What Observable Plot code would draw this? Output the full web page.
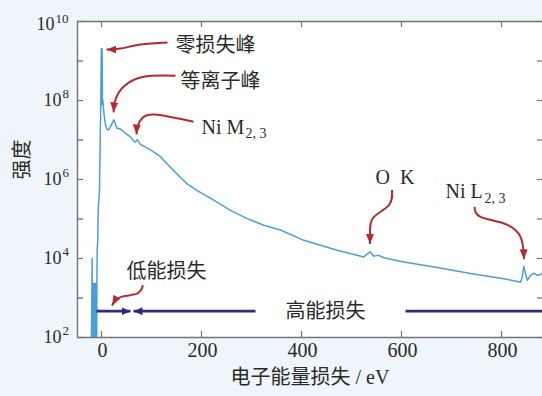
<!DOCTYPE html>
<html><head><meta charset="utf-8">
<script src="https://cdn.jsdelivr.net/npm/d3@7"></script>
<script src="https://cdn.jsdelivr.net/npm/@observablehq/plot@0.6"></script>
<style>
html,body{margin:0;padding:0;background:#eef6fb;}
#chart{width:542px;height:396px;overflow:hidden;}
</style></head><body><div id="chart"></div>
<script>
// Spectrum: energy loss (eV) and log10 of intensity
const energyLoss = [-21,-18.6,-18.2,-17.4,-16.8,-16,-15.4,-14.6,-14,-13.2,-12.6,-11.8,-11.2,-10.4,-9.8,-9.2,-8.6,-7.6,-6.6,-4,-2.6,-1.4,-0.4,0.4,1.2,2.0,2.8,4.6,8,11.4,14.6,18,24.6,31,38,48,58,64.6,68,71.4,78,98,118,124.6,144.6,158,171.4,191.4,224.6,258,291.4,324.6,358,404.6,471.4,524.6,536.6,544.6,554.6,564.6,604.6,671.4,738,804.6,838,841.4,844.6,848,851.4,858,864.6,871.4,882];
const log10Intensity = [1.0,4.0,1.0,3.37,1.0,3.37,1.0,3.37,1.0,3.37,1.0,3.37,1.0,3.37,1.0,3.37,4.25,4.4,5.22,5.73,7.0,7.94,9.31,7.9,9.31,7.95,8.0,7.7,7.38,7.26,7.26,7.34,7.51,7.30,7.28,7.17,7.08,6.97,6.95,7.01,6.89,6.75,6.58,6.48,6.22,6.05,5.89,5.72,5.48,5.22,5.01,4.84,4.72,4.46,4.21,4.04,4.17,4.06,4.08,4.02,3.91,3.77,3.62,3.49,3.40,3.53,3.80,3.62,3.45,3.57,3.63,3.57,3.62];

const xTicks = [0, 200, 400, 600, 800];
const yMajorExp = [2, 4, 6, 8, 10];
const yMinorExp = [3, 5, 7, 9];
const xDomain = [-48, 882];

// Annotation labels (anchor in eV, log10 intensity)
const noteText = ["零损失峰", "等离子峰", "Ni M", "O\u00a0\u00a0K", "Ni L", "低能损失"];
const noteEnergy = [148, 158, 200, 548, 688, 50];
const noteLog10 = [9.39, 8.476, 7.308, 6.038, 5.682, 3.675];
const subText = ["2, 3", "2, 3"];
const subEnergy = [288, 766];
const subLog10 = [7.16, 5.53];

// Red curved arrows (series id, eV, log10 intensity), last point = tip
const arrowId = [1,1,1,1, 2,2,2,2,2, 3,3,3,3,3, 4,4,4,4,4, 5,5,5,5,5, 6,6,6,6];
const arrowEnergy = [132,78,38,10, 148,84,44,28,24, 184,112,82,72,70, 581,575,545,537,537, 746,758,805,838,845, 83,71,38,21];
const arrowLog10 = [9.467,9.416,9.314,9.289, 8.628,8.603,8.349,8.019,7.70, 7.46,7.638,7.562,7.333,7.14, 5.733,5.352,5.055,4.718,4.37, 5.309,5.055,4.887,4.547,3.98, 3.32,3.109,3.023,2.812];

// Navy range bars
const rangeLabel = "高能损失";
const rangeLabelEnergy = 448;
const rangeLog10 = 2.667;
const segFrom = [-10, 308, 608];
const segTo = [58, 64, 882];
const segHead = [true, true, false];

const spectrum = energyLoss.map((e, i) => ({e, v: Math.pow(10, log10Intensity[i])}));
const notes = noteText.map((t, i) => ({t, e: noteEnergy[i], v: Math.pow(10, noteLog10[i])}));
const subs = subText.map((t, i) => ({t, e: subEnergy[i], v: Math.pow(10, subLog10[i])}));
const arrows = arrowId.map((id, i) => ({id, e: arrowEnergy[i], v: Math.pow(10, arrowLog10[i])}));
const segs = segFrom.map((f, i) => ({f, t: segTo[i], head: segHead[i], v: Math.pow(10, rangeLog10)}));

function headMarker(len, wid) {
  return (color, context) => {
    const doc = (context && context.document) || document;
    const ns = "http://www.w3.org/2000/svg";
    const m = doc.createElementNS(ns, "marker");
    m.setAttribute("viewBox", `${-len} ${-wid/2} ${len} ${wid}`);
    m.setAttribute("markerWidth", len);
    m.setAttribute("markerHeight", wid);
    m.setAttribute("markerUnits", "userSpaceOnUse");
    m.setAttribute("refX", 0);
    m.setAttribute("refY", 0);
    m.setAttribute("orient", "auto");
    const p = doc.createElementNS(ns, "path");
    p.setAttribute("d", `M0,0L${-len},${-wid/2}L${-len},${wid/2}Z`);
    p.setAttribute("fill", color);
    p.setAttribute("stroke", "none");
    m.appendChild(p);
    return m;
  };
}

const serif = "'Liberation Serif', 'Times New Roman', 'Noto Sans CJK SC', serif";
const cjk = "'Liberation Serif', 'Noto Sans CJK SC', sans-serif";
const axisColor = "#737373";
const textColor = "#2a2a2a";
const red = "#b8282f";
const navy = "#2e2b7d";
const blue = "#4b9fd6";
const FW = 542 - 77, FH = 396 - 21 - 59;

const plot = Plot.plot({
  width: 542, height: 396,
  marginLeft: 77, marginRight: 0, marginTop: 21, marginBottom: 59,
  x: {domain: xDomain, axis: null},
  y: {type: "log", domain: [1e2, 1e10], axis: null},
  style: {background: "transparent", overflow: "visible"},
  marks: [
    Plot.frame({fill: "white", stroke: null}),
    // axis lines
    Plot.ruleX([xDomain[0]], {stroke: axisColor, strokeWidth: 1.4}),
    Plot.ruleY([1e2], {stroke: axisColor, strokeWidth: 1.4}),
    Plot.ruleY([1e10], {stroke: axisColor, strokeWidth: 1.4}),
    // ticks
    Plot.ruleX(xTicks, {x: d => d, insetTop: FH - 6, stroke: axisColor, strokeWidth: 1.2}),
    Plot.ruleX(xTicks, {x: d => d, insetBottom: FH - 6, stroke: axisColor, strokeWidth: 1.2}),
    Plot.ruleY(yMajorExp, {y: d => Math.pow(10, d), insetRight: FW - 6, stroke: axisColor, strokeWidth: 1.2}),
    Plot.ruleY(yMinorExp, {y: d => Math.pow(10, d), insetRight: FW - 6, stroke: "#5a58a8", strokeWidth: 1.2}),
    Plot.ruleY(yMajorExp.concat(yMinorExp), {y: d => Math.pow(10, d), insetLeft: FW - 5, stroke: axisColor, strokeWidth: 1.2}),
    // tick labels
    Plot.text(xTicks, {x: d => d, text: d => String(d), frameAnchor: "bottom", dy: 19, dx: 1, fontSize: 20, fontFamily: serif, fill: textColor}),
    Plot.text(yMajorExp.filter(d => d < 10), {y: d => Math.pow(10, d), text: () => "10", frameAnchor: "left", dx: -16, textAnchor: "end", fontSize: 18, fontFamily: serif, fill: textColor}),
    Plot.text(yMajorExp.filter(d => d < 10), {y: d => Math.pow(10, d), text: d => String(d), frameAnchor: "left", dx: -15, dy: -7, textAnchor: "start", fontSize: 13, fontFamily: serif, fill: textColor}),
    Plot.text(yMajorExp.filter(d => d >= 10), {y: d => Math.pow(10, d), text: () => "10", frameAnchor: "left", dx: -23, dy: 3, textAnchor: "end", fontSize: 18, fontFamily: serif, fill: textColor}),
    Plot.text(yMajorExp.filter(d => d >= 10), {y: d => Math.pow(10, d), text: d => String(d), frameAnchor: "left", dx: -22, dy: -3, textAnchor: "start", fontSize: 13, fontFamily: serif, fill: textColor}),
    // axis titles
    Plot.text(["电子能量损失 / eV"], {frameAnchor: "bottom", dy: 46, fontSize: 20, fontFamily: cjk, fill: textColor}),
    Plot.text(["强度"], {frameAnchor: "left", dx: -55, rotate: -90, fontSize: 20, fontFamily: cjk, fill: textColor}),
    // spectrum
    Plot.line(spectrum, {x: "e", y: "v", stroke: blue, strokeWidth: 1.5, clip: true}),
    // navy range bars
    Plot.link(segs.filter(d => d.head), {x1: "f", x2: "t", y1: "v", y2: "v", stroke: navy, strokeWidth: 2.8, strokeLinecap: "butt", markerEnd: headMarker(9, 8)}),
    Plot.link(segs.filter(d => !d.head), {x1: "f", x2: "t", y1: "v", y2: "v", stroke: navy, strokeWidth: 2.8, strokeLinecap: "butt"}),
    Plot.text([rangeLabel], {x: () => rangeLabelEnergy, y: () => Math.pow(10, rangeLog10), fontSize: 20, fontFamily: cjk, fill: textColor}),
    // red arrows
    Plot.line(arrows, {x: "e", y: "v", z: "id", curve: "natural", stroke: red, strokeWidth: 2, strokeLinecap: "butt", markerEnd: headMarker(10, 8)}),
    // notes
    Plot.text(notes, {x: "e", y: "v", text: "t", textAnchor: "start", fontSize: 20, fontFamily: cjk, fill: textColor}),
    Plot.text(subs, {x: "e", y: "v", text: "t", textAnchor: "start", fontSize: 14, fontFamily: serif, fill: textColor})
  ]
});
document.getElementById("chart").appendChild(plot);
</script>
</body></html>
